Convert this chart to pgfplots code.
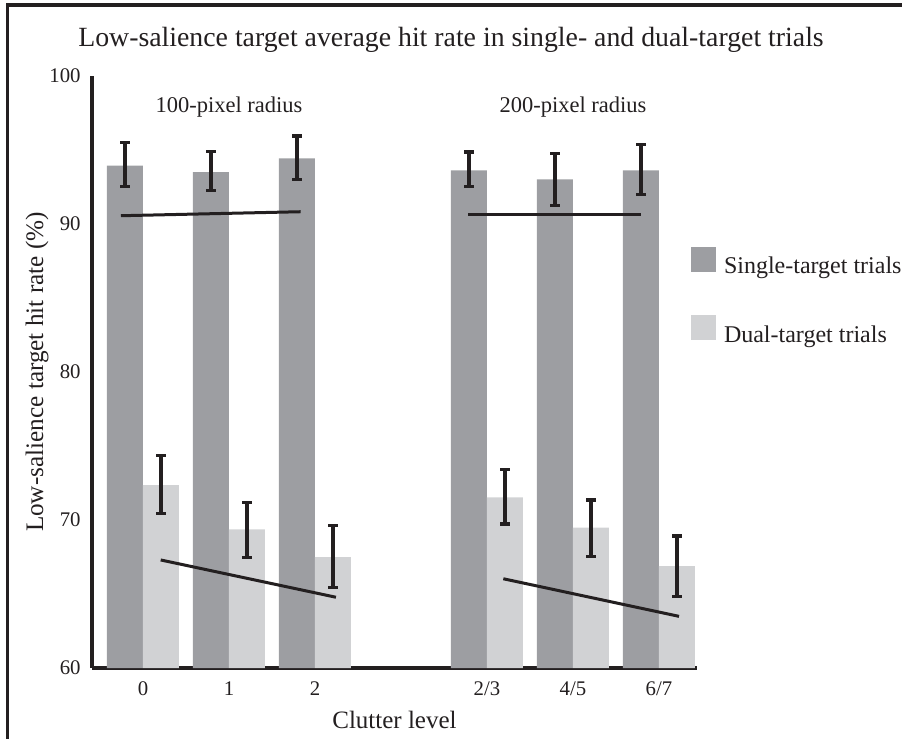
\documentclass[border=0pt]{standalone}
\usepackage{fontspec}
\setmainfont{Liberation Serif}
\usepackage{pgfplots}
\pgfplotsset{compat=1.18}
\usepackage{pgfplotstable}
\definecolor{dark}{RGB}{157,158,162}
\definecolor{light}{RGB}{209,210,212}
\definecolor{ink}{RGB}{35,31,32}

\pgfplotstableread{
x y ep em
0 93.94 1.55 1.42
1 93.51 1.38 1.23
2 94.44 1.51 1.42
4 93.63 1.23 1.11
5 93.02 1.76 1.76
6 93.63 1.75 1.65
}\single

\pgfplotstableread{
x y ep em
0 72.36 1.98 1.91
1 69.37 1.80 1.92
2 67.50 2.11 2.07
4 71.53 1.90 1.80
5 69.48 1.87 1.96
6 66.89 2.03 2.07
}\dual

\begin{document}
\begin{tikzpicture}
\useasboundingbox (0,0) rectangle (451pt,-369.5pt);
\draw[line width=1.5pt, ink] (3.5pt,-369.5pt) -- (3.5pt,-2.5pt) -- (451pt,-2.5pt);
\node[anchor=base, font=\fontsize{13.9}{16}\selectfont, text=ink, inner sep=0pt] at (225.5pt,-23.35pt) {Low-salience target average hit rate in single- and dual-target trials};
\begin{axis}[
  at={(46pt,-334pt)}, anchor=south west,
  scale only axis, width=302.5pt, height=296pt,
  xmin=-0.593, xmax=6.442, ymin=60, ymax=100,
  axis x line=bottom, axis y line=left,
  axis line style={-, line width=1.6pt, ink},
  xtick={0,1,2,4,5,6}, xticklabels={0,1,2,2/3,4/5,6/7},
  ytick={60,70,80,90,100},
  major tick length=0pt,
  /pgf/number format/assume math mode=true,
  tick label style={font=\fontsize{10.4}{12}\selectfont, text=ink},
  xticklabel style={anchor=base, yshift=-13.5pt, inner sep=0pt},
  yticklabel style={anchor=east, inner sep=0pt, xshift=-5.5pt},
  xlabel={Clutter level},
  xlabel style={at={(axis description cs:0.5,-0.103)}, anchor=base, inner sep=0pt, font=\fontsize{12.5}{14}\selectfont, text=ink},
  ylabel={Low-salience target hit rate (\%)},
  ylabel style={at={(axis description cs:-0.0909,0.5)}, anchor=center, inner sep=0pt, font=\fontsize{12.6}{14}\selectfont, text=ink},
  legend image code/.code={\fill[#1] (0pt,-2.3pt) rectangle (12.5pt,10.2pt);},
  legend style={at={(axis description cs:0.9896,0.6282)}, anchor=west, draw=none, fill=none,
    inner sep=0pt, outer sep=0pt, row sep=19.2pt, column sep=4.15pt,
    nodes={inner sep=0pt, text=ink}, font=\fontsize{12}{14}\selectfont},
  legend cell align=left,
]
\addplot[ybar, bar width=18pt, bar shift=0pt, fill=dark, draw=none, forget plot,
  error bars/.cd, y dir=both, y explicit,
  error bar style={line width=1.6pt, ink},
  error mark options={rotate=90, line width=1.6pt, ink, mark size=2.3pt}]
  table[x expr=\thisrow{x}-0.2093, y=y, y error plus=ep, y error minus=em] {\single};
\addplot[ybar, bar width=18pt, bar shift=0pt, fill=light, draw=none, forget plot,
  error bars/.cd, y dir=both, y explicit,
  error bar style={line width=1.6pt, ink},
  error mark options={rotate=90, line width=1.6pt, ink, mark size=2.3pt}]
  table[x expr=\thisrow{x}+0.2093, y=y, y error plus=ep, y error minus=em] {\dual};
\addplot[ink, line width=1.5pt, no marks, forget plot] coordinates {(-0.256,90.56) (1.834,90.83)};
\addplot[ink, line width=1.5pt, no marks, forget plot] coordinates {(3.783,90.63) (5.791,90.63)};
\addplot[ink, line width=1.5pt, no marks, forget plot] coordinates {(0.206,67.30) (2.244,64.78)};
\addplot[ink, line width=1.5pt, no marks, forget plot] coordinates {(4.190,66.03) (6.233,63.49)};
\node[anchor=base, font=\fontsize{11.25}{13}\selectfont, text=ink, inner sep=0pt] at (axis cs:1,97.52) {100-pixel radius};
\node[anchor=base, font=\fontsize{11.25}{13}\selectfont, text=ink, inner sep=0pt] at (axis cs:5,97.52) {200-pixel radius};
\addlegendimage{fill=dark, draw=none}
\addlegendentry{Single-target trials}
\addlegendimage{fill=light, draw=none}
\addlegendentry{Dual-target trials}
\end{axis}
\end{tikzpicture}
\end{document}
